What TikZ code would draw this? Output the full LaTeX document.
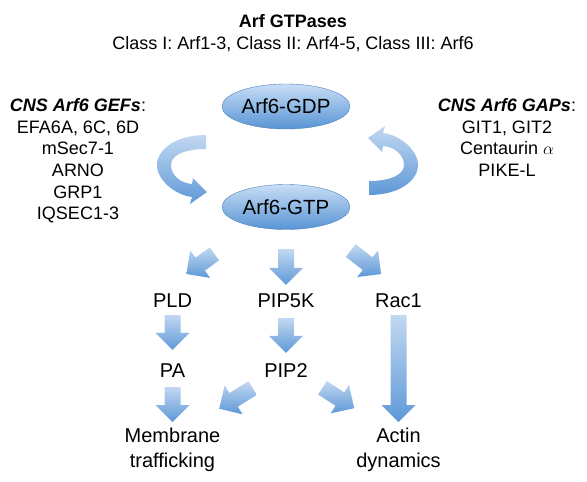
\documentclass[tikz,border=0pt]{standalone}
\usepackage{fontspec}
\setmainfont{Liberation Sans}
\usetikzlibrary{calc,shapes.geometric}
\definecolor{blue1}{RGB}{200,222,245}
\definecolor{blue2}{RGB}{88,148,212}
\definecolor{blue3}{RGB}{78,130,190}
\definecolor{blue4}{RGB}{194,216,241}
\definecolor{blue5}{RGB}{94,152,215}

\def\shaftw{8pt}
\def\headw{17pt}
\def\headlen{17pt}
\newcommand{\blockarrow}[4]{%
	\coordinate (ba-s) at ($(#1)!#3!(#2)$);
	\coordinate (ba-e) at ($(#2)!#4!(#1)$);
	\coordinate (ba-h) at ($(ba-e)!\headlen!(ba-s)$);
	\path[fatarrow] ($(ba-s)!\shaftw!90:(ba-e)$) -- ($(ba-h)!\shaftw!90:(ba-e)$) -- ($(ba-h)!\headw!90:(ba-e)$) -- (ba-e)
		-- ($(ba-h)!\headw!-90:(ba-e)$) -- ($(ba-h)!\shaftw!-90:(ba-e)$) -- ($(ba-s)!\shaftw!-90:(ba-e)$) -- cycle;}

\begin{document}
\begin{tikzpicture}[x=1pt, y=1pt,
				ellnode/.style=		{ellipse, minimum width=128pt, minimum height=45pt, inner sep=0pt, top color=blue1, bottom color=blue2, draw=blue3, font=\fontsize{20.5}{24}\selectfont},
				labelnode/.style=	{inner sep=2pt, align=center, font=\fontsize{20}{25}\selectfont},
				listnode/.style=	{inner sep=2pt, align=center, anchor=north, font=\fontsize{18}{21.6}\selectfont},
				titlenode/.style=	{inner sep=0pt, anchor=base, font=\fontsize{18}{21.6}\selectfont},
				fatarrow/.style=	{top color=blue4, bottom color=blue5, draw=none},
				turnarrow/.style=	{top color=blue4, bottom color=blue5, draw=none}]
	\useasboundingbox (0,0) rectangle (587,-482);

	\node[titlenode] (title) at (293,-27.5) {\textbf{Arf GTPases}};
	\node[titlenode] (classes) at (293,-49.5) {Class I: Arf1-3, Class II: Arf4-5, Class III: Arf6};

	\node[ellnode] (GDP) at (286,-106.5) {Arf6-GDP};
	\node[ellnode] (GTP) at (286,-207) {Arf6-GTP};

	\node[listnode] (gefs) at (78,-96.4) {\textbf{\textit{CNS Arf6 GEFs}}:\\EFA6A, 6C, 6D\\mSec7-1\\ARNO\\GRP1\\IQSEC1-3};
	\node[listnode] (gaps) at (507,-96.4) {\textbf{\textit{CNS Arf6 GAPs}}:\\GIT1, GIT2\\Centaurin $\alpha$\\PIKE-L};

	\foreach \r in {0,180}
		\path[turnarrow, rotate around={\r:(287.5,-165)}] (206,-135) .. controls (175,-135) and (157,-150) .. (157,-165)
			.. controls (157,-180) and (175,-195) .. (192,-197) -- (190,-204) -- (207,-192) -- (193,-178) -- (192,-184)
			.. controls (180,-183) and (171,-175) .. (171,-165) .. controls (171,-155) and (185,-149) .. (206,-149) -- cycle;

	\node[labelnode] (PLD) at (172.5,-301) {PLD};
	\node[labelnode] (PIP5K) at (286,-301) {PIP5K};
	\node[labelnode] (Rac1) at (398.5,-301) {Rac1};
	\node[labelnode] (PA) at (172.5,-371) {PA};
	\node[labelnode] (PIP2) at (286,-371) {PIP2};
	\node[labelnode, anchor=north] (Mem) at (172.5,-425.6) {Membrane\\trafficking};
	\node[labelnode, anchor=north] (Actin) at (398.5,-425.6) {Actin\\dynamics};

	\blockarrow{GTP.south}{PIP5K.north}{19.5pt}{7pt}
	\blockarrow{GTP.210}{PLD.140}{47pt}{30.5pt}
	\blockarrow{GTP.330}{Rac1.59}{39.5pt}{29pt}
	\blockarrow{PLD.south}{PA.north}{5pt}{12pt}
	\blockarrow{PIP5K.south}{PIP2.north}{8pt}{9pt}
	\blockarrow{Rac1.south}{Actin.north}{5pt}{3.6pt}
	\blockarrow{PA.south}{Mem.north}{7pt}{3.6pt}
	\blockarrow{PIP2.204}{Mem.51}{15pt}{32pt}
	\blockarrow{PIP2.340}{Actin.126}{15pt}{32pt}
\end{tikzpicture}
\end{document}
